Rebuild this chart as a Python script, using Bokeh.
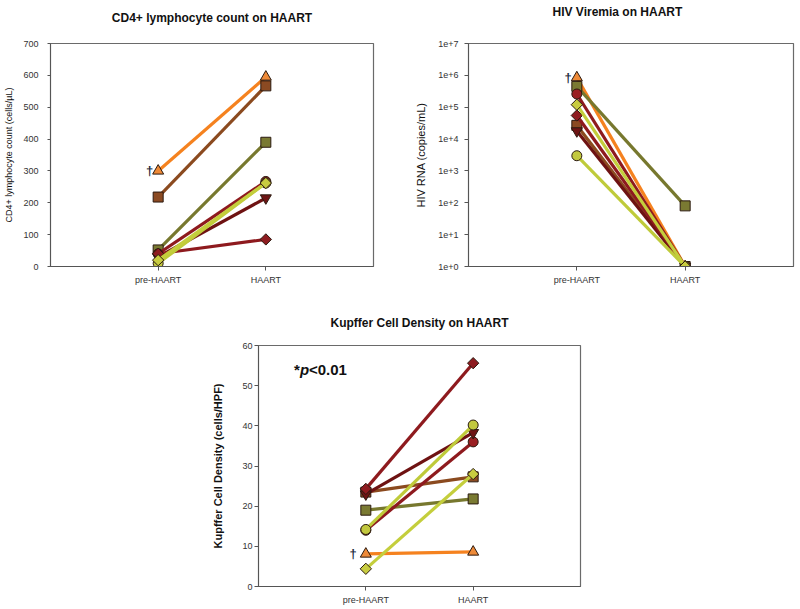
import math
from bokeh.plotting import figure
from bokeh.layouts import column, row
from bokeh.models import FixedTicker, CustomJSTickFormatter, Label, Spacer, Title
from bokeh.embed import file_html
from bokeh.resources import INLINE
from bokeh.core.properties import value

# ---------------- data ----------------
categories = ["pre-HAART", "HAART"]

# one entry per patient (draw order)
series_colors = ["#F5821F", "#8B4A1F", "#77782E", "#8E1A1E", "#6E1212", "#8E1A1E", "#BFCB3A", "#C4CE3C"]
marker_fills = ["#EE8A38", "#8B4A22", "#7A7A32", "#9A1F22", "#6E1414", "#8E1C20", "#C2C83E", "#C8CC40"]
series_markers = ["triangle", "square", "square", "circle", "inverted_triangle", "diamond", "circle", "diamond"]

cd4_pre = [300, 218, 52, 40, 30, 40, 10, 20]
cd4_haart = [595, 567, 390, 267, 215, 85, 262, 262]

hiv_pre = [850000, 27000, 450000, 260000, 18000, 55000, 3000, 120000]
hiv_haart = [1, 1, 80, 1, 1, 1, 1, 1]

kc_pre = [8.1, 23.5, 19.0, 14.0, 23.0, 24.3, 14.2, 4.4]
kc_haart = [8.6, 27.3, 21.8, 36.0, 38.3, 55.6, 40.2, 28.0]

cd4_ticks = [0, 100, 200, 300, 400, 500, 600, 700]
hiv_ticks = [1, 10, 100, 1000, 10000, 100000, 1000000, 10000000]
kc_ticks = [0, 10, 20, 30, 40, 50, 60]

FONT = "Liberation Sans"
x_pos = [i + 1 for i in range(len(categories))]


def make_fig(title, ylabel, width, height, bl, br, bt, bb, y_range, y_ticks,
             spacer_size, title_align="center", title_offset=0, y_type="linear"):
    p = figure(width=width, height=height, x_range=(0, len(categories) + 1), y_range=y_range,
               y_axis_type=y_type, output_backend="svg", toolbar_location=None,
               min_border_left=bl, min_border_right=br, min_border_top=bt, min_border_bottom=bb,
               background_fill_color="white", border_fill_color="white")
    p.title = None
    p.xgrid.visible = False
    p.ygrid.visible = False
    p.outline_line_color = "#6a6a6a"
    p.outline_line_width = 1.2
    # blank spacer title next to the frame, then the real title above it
    p.add_layout(Title(text=" ", text_font=FONT, text_font_size=f"{spacer_size}px", standoff=0), "above")
    p.add_layout(Title(text=title, align=title_align, offset=title_offset, standoff=0,
                       text_font=FONT, text_font_size="12px", text_font_style="bold",
                       text_color="#111111"), "above")

    p.xaxis.ticker = FixedTicker(ticks=x_pos)
    p.xaxis.major_label_overrides = {x: c for x, c in zip(x_pos, categories)}
    p.yaxis.ticker = FixedTicker(ticks=y_ticks)
    for ax in (p.xaxis[0], p.yaxis[0]):
        ax.axis_line_color = "#555555"
        ax.major_tick_line_color = "#555555"
        ax.major_tick_out = 4
        ax.major_tick_in = 0
        ax.minor_tick_line_color = None
        ax.major_label_text_font = FONT
        ax.major_label_text_font_size = "9px"
        ax.major_label_text_color = "#333333"
    p.xaxis.major_label_standoff = 4
    p.yaxis.axis_label = ylabel
    p.yaxis.axis_label_text_font = FONT
    p.yaxis.axis_label_text_color = "#111111"
    return p


def draw(p, pre, post, dagger_offset):
    for i in range(len(pre)):
        ys = [pre[i], post[i]]
        p.line(x_pos, ys, line_color=series_colors[i], line_width=3.2)
        m = series_markers[i]
        if m == "diamond":
            p.scatter(x_pos, ys, marker="square", angle=math.pi / 4, size=8,
                      fill_color=marker_fills[i], line_color="#2b1a10", line_width=1)
        elif m in ("triangle", "inverted_triangle"):
            p.scatter(x_pos, ys, marker=m, size=11,
                      fill_color=marker_fills[i], line_color="#2b1a10", line_width=1)
        else:
            p.scatter(x_pos, ys, marker=m, size=10,
                      fill_color=marker_fills[i], line_color="#2b1a10", line_width=1)
    # dagger next to the first (orange) patient's pre-HAART value
    p.text(x=[x_pos[0]], y=[pre[0]], text=["\u2020"], x_offset=dagger_offset,
           text_align="right", text_baseline="middle", text_font=value(FONT),
           text_font_size="13px", text_font_style="bold", text_color="#1B2A40")


# ---- CD4 panel ----  frame 323 x 225
p1 = make_fig("CD4+ lymphocyte count on HAART", "CD4+ lymphocyte count (cells/\u00b5L)",
              408, 296, 50, 35, 41, 30, (0, 700), cd4_ticks, 15)
p1.yaxis.axis_label_text_font_size = "9px"
p1.yaxis.axis_label_text_font_style = "normal"
p1.yaxis.axis_label_standoff = 6
p1.yaxis.major_label_standoff = 9
p1.yaxis.major_tick_out = 3
draw(p1, cd4_pre, cd4_haart, -5)

# ---- HIV panel ----  frame 325 x 227
p2 = make_fig("HIV Viremia on HAART", "HIV RNA (copies/mL)",
              392, 296, 60, 7, 43, 26, (1, 1e7), hiv_ticks, 21,
              title_align="left", title_offset=84, y_type="log")
p2.yaxis.formatter = CustomJSTickFormatter(code="return '1e+' + Math.round(Math.log10(tick));")
p2.yaxis.axis_label_text_font_size = "11px"
p2.yaxis.axis_label_text_font_style = "normal"
p2.yaxis.axis_label_standoff = 8
p2.yaxis.major_label_standoff = 6
draw(p2, hiv_pre, hiv_haart, -5)

# ---- Kupffer panel ----  frame 322 x 241
p3 = make_fig("Kupffer Cell Density on HAART", "Kupffer Cell Density (cells/HPF)",
              462, 313, 100, 40, 49, 23, (0, 60), kc_ticks, 12)
p3.yaxis.axis_label_text_font_size = "11px"
p3.yaxis.axis_label_text_font_style = "bold"
p3.yaxis.axis_label_standoff = 15
p3.yaxis.major_label_standoff = 2
draw(p3, kc_pre, kc_haart, -9)

# p-value annotation
px, py = 0.33, 52.0
p3.add_layout(Label(x=px, y=py, text="*", text_font=FONT, text_font_size="15px",
                    text_font_style="bold", text_color="#111111"))
p3.add_layout(Label(x=px, y=py, x_offset=6, text="p", text_font=FONT, text_font_size="15px",
                    text_font_style="bold italic", text_color="#111111"))
p3.add_layout(Label(x=px, y=py, x_offset=15, text="<0.01", text_font=FONT, text_font_size="15px",
                    text_font_style="bold", text_color="#111111"))

layout = column(row(p1, p2), row(Spacer(width=158, height=313), p3))

open("out.html", "w").write(file_html(layout, INLINE))
